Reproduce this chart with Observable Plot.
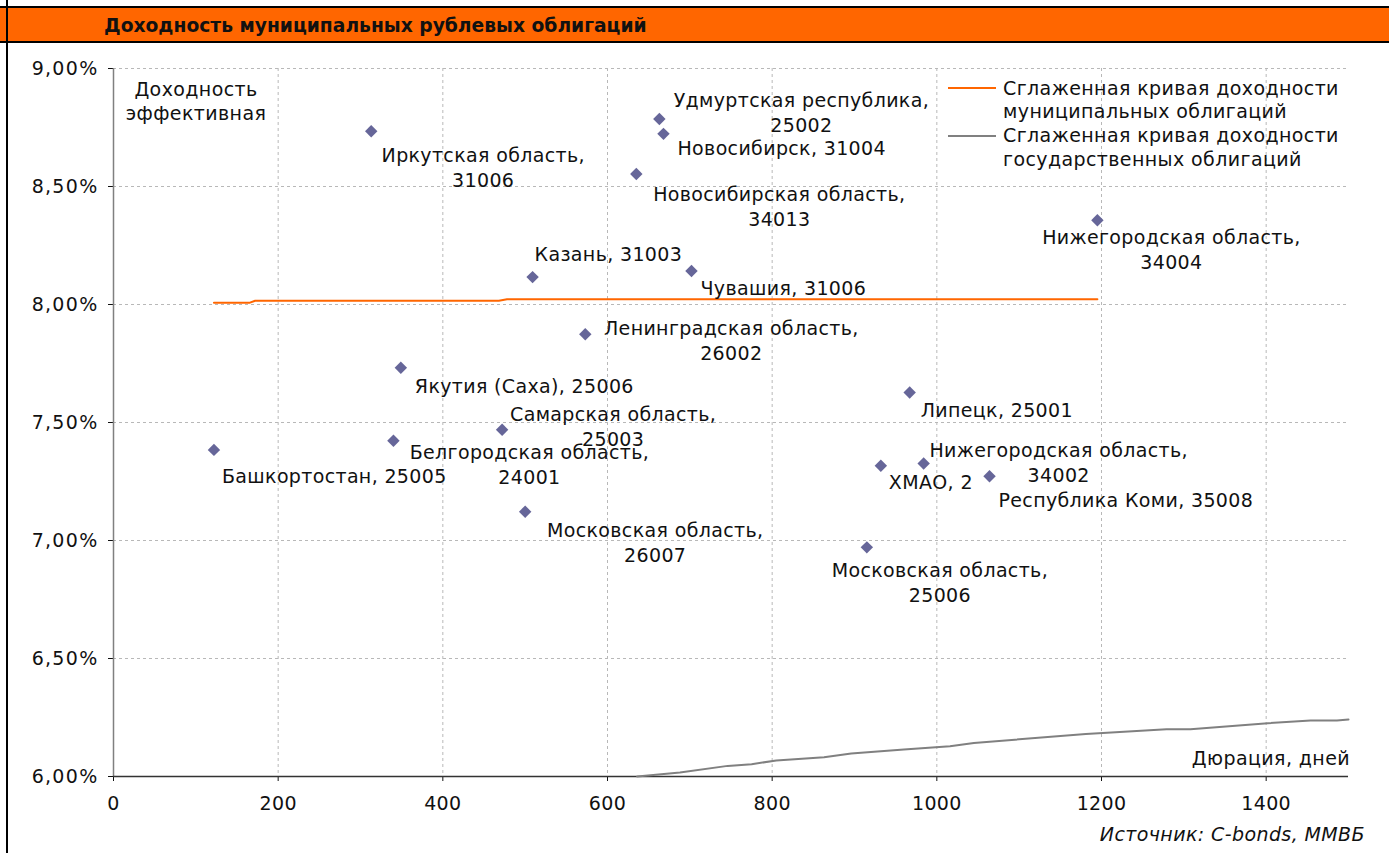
<!DOCTYPE html>
<html><head><meta charset="utf-8">
<script src="https://cdn.jsdelivr.net/npm/d3@7"></script>
<script src="https://cdn.jsdelivr.net/npm/@observablehq/plot@0.6"></script>
<style>
body{margin:0;background:#fff;}
#wrap{position:relative;width:1389px;height:853px;overflow:hidden;font-family:"DejaVu Sans",sans-serif;color:#111;background:#fff;}
#wrap .abs{position:absolute;}
#chart{position:absolute;left:0;top:43px;}
.lg{position:absolute;font-size:19px;line-height:23.5px;white-space:nowrap;letter-spacing:0.4px;}
#chart svg text{letter-spacing:0.35px;}
#chart svg g[aria-label="y-axis tick label"] text{letter-spacing:1.3px;}
</style></head><body>
<div id="wrap">
  <div id="chart"></div>
  <div class="abs" style="left:0;top:6px;width:1389px;height:2px;background:#000"></div>
  <div class="abs" style="left:0;top:8px;width:1389px;height:33px;background:#FF6600"></div>
  <div class="abs" style="left:0;top:41px;width:1389px;height:2px;background:#000"></div>
  <div class="abs" style="left:6px;top:0;width:2px;height:853px;background:#000"></div>
  <div class="abs" id="title" style="left:104px;top:13px;font-weight:bold;font-size:18.7px;line-height:26px;white-space:nowrap;color:#111">Доходность муниципальных рублевых облигаций</div>
  <div class="lg" style="left:119px;top:78px;width:154px;text-align:center">Доходность<br>эффективная</div>
  <div class="abs" style="left:948px;top:87px;width:48px;height:2px;background:#FF6600"></div>
  <div class="lg" style="left:1003px;top:76.5px">Сглаженная кривая доходности<br>муниципальных облигаций</div>
  <div class="abs" style="left:948px;top:135px;width:48px;height:2px;background:#808080"></div>
  <div class="lg" style="left:1003px;top:124.3px">Сглаженная кривая доходности<br>государственных облигаций</div>
  <div class="lg" style="right:39px;top:747px;text-align:right">Дюрация, дней</div>
  <div class="lg" style="right:24px;top:823px;text-align:right;font-style:italic">Источник: C-bonds, ММВБ</div>
</div>
<script>
// ---- data ----
const labels = [
  "Башкортостан, 25005",
  "Иркутская область,\n31006",
  "Якутия (Саха), 25006",
  "Белгородская область,\n24001",
  "Самарская область,\n25003",
  "Московская область,\n26007",
  "Казань, 31003",
  "Ленинградская область,\n26002",
  "Новосибирская область,\n34013",
  "Удмуртская республика,\n25002",
  "Новосибирск, 31004",
  "Чувашия, 31006",
  "Московская область,\n25006",
  "ХМАО, 2",
  "Липецк, 25001",
  "Нижегородская область,\n34002",
  "Республика Коми, 35008",
  "Нижегородская область,\n34004"
];
const durations = [122, 313, 349, 340, 472, 500, 509, 573, 635, 663, 668, 702, 915, 932, 967, 984, 1064, 1195];
const yields = [7.384, 8.734, 7.732, 7.423, 7.469, 7.122, 8.116, 7.874, 8.553, 8.786, 8.723, 8.142, 6.971, 7.317, 7.627, 7.326, 7.272, 8.357];

const muniDays = [122, 165, 172, 468, 478, 1195];
const muniYield = [8.007, 8.007, 8.016, 8.016, 8.022, 8.022];

const govtDays = [636, 688, 746, 775, 805, 863, 896, 960, 1016, 1045, 1181, 1279, 1308, 1402, 1454, 1486, 1500];
const govtYield = [6.0, 6.017, 6.045, 6.052, 6.068, 6.082, 6.097, 6.114, 6.128, 6.142, 6.18, 6.2, 6.2, 6.226, 6.237, 6.237, 6.242];

const xTicks = [0, 200, 400, 600, 800, 1000, 1200, 1400];
const yTicks = [6.0, 6.5, 7.0, 7.5, 8.0, 8.5, 9.0];

// ---- layout (label offsets in px, not data) ----
const labelDx = [8, 112, 14, 136, 111, 130, 2, 146, 143, 142, 14, 9, 73, 8, 11, 135, 9, 74];
const labelDy = [15, 13, 8, 1, -27, 8, -34, -17, 9, -30, 3, 6, 12, 6, 7, -24, 13, 6];

const bonds = labels.map((label, i) => ({label, x: durations[i], y: yields[i]}));
const muni = muniDays.map((d, i) => ({x: d, y: muniYield[i]}));
const govt = govtDays.map((d, i) => ({x: d, y: govtYield[i]}));

const labelMarks = bonds.map((b, i) => {
  const multi = b.label.includes("\n");
  return Plot.text([b], {
    x: "x", y: "y", text: "label",
    dx: labelDx[i], dy: labelDy[i],
    textAnchor: multi ? "middle" : "start",
    lineAnchor: "top", lineHeight: 25 / 19,
    fill: "#111", fontSize: 19
  });
});

const chart = Plot.plot({
  width: 1389, height: 810,
  marginLeft: 113, marginRight: 41, marginTop: 25, marginBottom: 77,
  x: {domain: [0, 1500]},
  y: {domain: [6, 9]},
  style: {fontFamily: "DejaVu Sans", fontSize: "19px", background: "transparent", color: "#111", overflow: "visible"},
  marks: [
    Plot.gridX(xTicks.filter(d => d > 0), {stroke: "#b8b8b8", strokeOpacity: 1, strokeDasharray: "3,3"}),
    Plot.gridY(yTicks.filter(d => d > 6), {stroke: "#b8b8b8", strokeOpacity: 1, strokeDasharray: "3,3"}),
    Plot.axisX(xTicks, {anchor: "bottom", tickSize: 5, tickPadding: 15, tickFormat: d => String(d), label: null, fontSize: 19}),
    Plot.axisY(yTicks, {anchor: "left", tickSize: 5, tickPadding: 10, tickFormat: d => d.toFixed(2).replace(".", ",") + "%", label: null, fontSize: 19}),
    Plot.ruleX([0], {stroke: "#808080", strokeWidth: 1.5}),
    Plot.ruleY([6], {stroke: "#333", strokeWidth: 1.5}),
    Plot.line(govt, {x: "x", y: "y", stroke: "#808080", strokeWidth: 2}),
    Plot.line(muni, {x: "x", y: "y", stroke: "#FF6600", strokeWidth: 2}),
    Plot.dot(bonds, {x: "x", y: "y", symbol: "diamond2", r: 5.6, fill: "#666699", stroke: "none"}),
    ...labelMarks
  ]
});
document.getElementById("chart").append(chart);
</script>
</body></html>
